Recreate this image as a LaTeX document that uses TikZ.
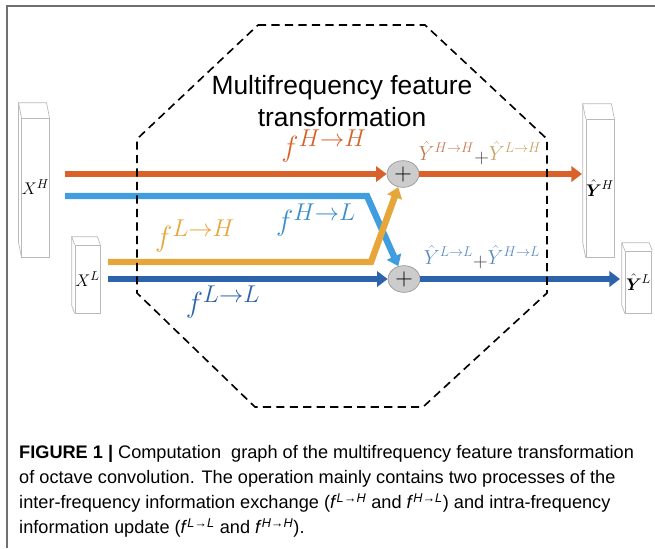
\documentclass[tikz,border=0pt]{standalone}
\usepackage{fontspec}
\setmainfont{Liberation Sans}
\usepackage{amsmath,bm}
\usetikzlibrary{calc,arrows.meta,shapes.geometric}

\definecolor{hhcol}{RGB}{217,98,43}
\definecolor{hlcol}{RGB}{64,157,224}
\definecolor{lhcol}{RGB}{230,166,58}
\definecolor{llcol}{RGB}{44,99,172}
\definecolor{yhhcol}{RGB}{196,122,82}
\definecolor{ylhcol}{RGB}{200,160,96}
\definecolor{ylcol}{RGB}{90,138,192}
\definecolor{framecol}{RGB}{112,112,112}

\tikzset{
    slab/.style={draw=gray!55,fill=white,line width=0.6pt,inner sep=0pt,font=\fontsize{15}{15}\selectfont},
    flow/.style={line width=5.5pt,-{Triangle[length=9pt,width=13pt]}},
    adder/.style={ellipse,draw=gray!80,fill=gray!40,line width=0.6pt,minimum width=0.96cm,minimum height=0.8cm,inner sep=0pt,font=\fontsize{20}{20}\selectfont},
    flabel/.style={font=\fontsize{30}{30}\selectfont},
    ylabel/.style={font=\fontsize{18}{18}\selectfont},
}

\begin{document}
\begin{tikzpicture}[x=0.03cm,y=-0.03cm]
    \useasboundingbox (0,0) rectangle (655,548);
    % frame
    \draw[framecol,line width=1.6pt] (655,6)--(7,6)--(7,548);

    % slabs
    \node[slab,minimum width=0.75cm,minimum height=4.17cm] (XH) at (35.5,187.5){\(X^H\)};
    \node[slab,minimum width=0.75cm,minimum height=2.04cm] (XL) at (87.5,279){\(X^L\)};
    \node[slab,minimum width=0.78cm,minimum height=4.14cm] (YH) at (600,188){\(\bm{\hat{Y}}^H\)};
    \node[slab,minimum width=0.8cm,minimum height=1.86cm] (YL) at (638.5,282){\(\bm{\hat{Y}}^L\)};
    \foreach \b/\d in {XH/15,XL/8,YH/15,YL/8}{
        \draw[gray!55,line width=0.6pt] (\b.north west)--++(-3,-\d)--($(\b.north east)+(-3,-\d)$)--(\b.north east);
        \draw[gray!55,line width=0.6pt] ($(\b.north west)+(-3,-\d)$)--($(\b.south west)+(-3,-\d)$)--(\b.south west);
    }

    % adders
    \node[adder] (plusH) at (403,174){\(+\)};
    \node[adder] (plusL) at (404,279){\(+\)};

    \coordinate (hin) at (65,174);
    \coordinate (hlin) at (65,196);
    \coordinate (hlbend) at (367,196);
    \coordinate (lhin) at (108,262);
    \coordinate (lhbend) at (371,262);
    \coordinate (lin) at (108,279);
    \coordinate (hout) at (582,174);
    \coordinate (lout) at (620,279);

    \draw[flow,hhcol] (hin)--(plusH);
    \draw[flow,llcol] (lin)--(plusL);
    \draw[flow,hlcol] (hlin)--(hlbend)--(plusL);
    \draw[flow,lhcol] (lhin)--(lhbend)--(plusH);
    \draw[flow,hhcol] (plusH)--(hout);
    \draw[flow,llcol] (plusL)--(lout);

    \node[flabel,text=hhcol] (fHH) at (324,146){\(f^{H\to H}\)};
    \node[flabel,text=hlcol!90!black] (fHL) at (316,220){\(f^{H\to L}\)};
    \node[flabel,text=lhcol] (fLH) at (195,236){\(f^{L\to H}\)};
    \node[flabel,text=llcol] (fLL) at (223,302){\(f^{L\to L}\)};

    \node[ylabel] (sumH) at (480,153){\(\color{yhhcol}\hat{Y}^{H\to H}\color{black!75}\raisebox{-3pt}{\(+\)}\color{ylhcol}\hat{Y}^{L\to H}\)};
    \node[ylabel,text=ylcol] (sumL) at (482,257){\(\hat{Y}^{L\to L}\color{black!75}\raisebox{-3pt}{\(+\)}\color{ylcol}\hat{Y}^{H\to L}\)};

    % octagon
    \draw[dashed,line width=1.4pt,dash pattern=on 7pt off 4.5pt] (258,25)--(425,25)--(547,139)--(547,293)--(423,407)--(255,407)--(137,293)--(137,139)--cycle;
    \node[align=center,font=\fontsize{22.5}{27}\selectfont] (title) at (342,101){Multifrequency feature\\transformation};

    % caption
    \node[anchor=north west,align=left,inner sep=0pt,font=\fontsize{15.5}{21.3}\selectfont] (caption) at (19,445){\textbf{FIGURE 1 |} Computation\ \ graph of the multifrequency feature transformation\\
of octave convolution. The operation mainly contains two processes of the\\
inter-frequency information exchange (\textit{f}\textsuperscript{\textit{L}→\textit{H}} and \textit{f}\textsuperscript{\textit{H}→\textit{L}}) and intra-frequency\\
information update (\textit{f}\textsuperscript{\textit{L}→\textit{L}} and \textit{f}\textsuperscript{\textit{H}→\textit{H}}).};
\end{tikzpicture}
\end{document}
